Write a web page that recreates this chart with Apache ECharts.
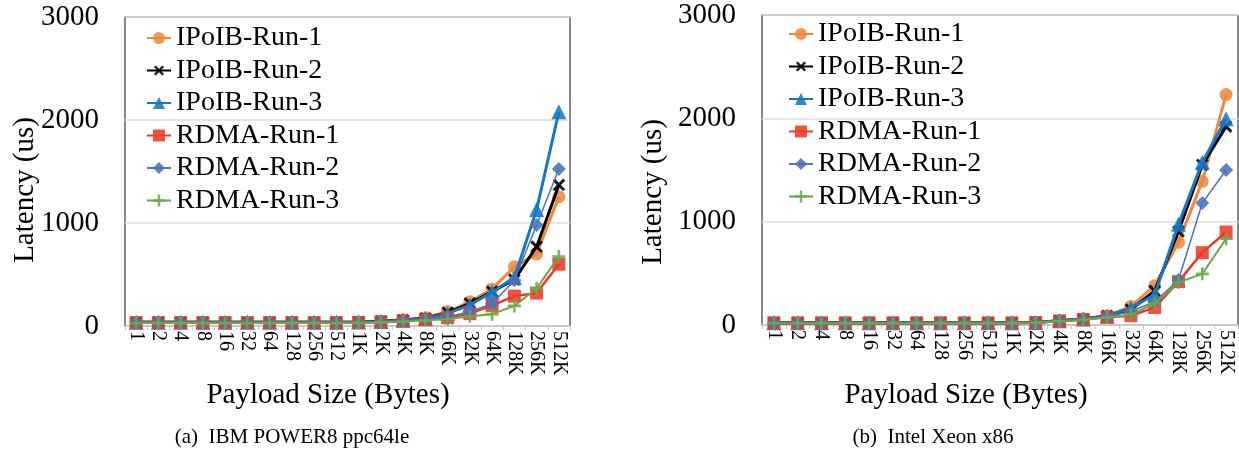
<!DOCTYPE html>
<html><head><meta charset="utf-8">
<script src="https://cdn.jsdelivr.net/npm/echarts@6/dist/echarts.min.js"></script>
<style>html,body{margin:0;padding:0;background:#fff}#c{width:1239px;height:457px}</style>
</head><body><div id="c"></div>
<script>
// ---------- data ----------
const categories = ['1','2','4','8','16','32','64','128','256','512','1K','2K','4K','8K','16K','32K','64K','128K','256K','512K'];
const yMin = 0, yMax = 3000, yInterval = 1000;
const seriesNames = ['IPoIB-Run-1','IPoIB-Run-2','IPoIB-Run-3','RDMA-Run-1','RDMA-Run-2','RDMA-Run-3'];
const xAxisTitle = 'Payload Size (Bytes)';
const yAxisTitle = 'Latency (us)';
const captions = ['(a)  IBM POWER8 ppc64le', '(b)  Intel Xeon x86'];

// (a) IBM POWER8 ppc64le
const power8Ipoib1 = [36,36,36,36,36,36,36,36,36,36,38,45,60,80,140,235,360,575,700,1255];
const power8Ipoib2 = [36,36,36,36,36,36,36,36,36,36,38,45,58,75,130,220,335,450,770,1370];
const power8Ipoib3 = [36,36,36,36,36,36,36,36,36,36,38,44,56,72,122,205,330,470,1130,2080];
const power8Rdma1  = [32,32,32,32,32,32,32,32,32,32,34,40,48,62,80,120,200,290,320,600];
const power8Rdma2  = [33,33,33,33,33,33,33,33,33,33,35,42,52,68,88,140,215,445,980,1525];
const power8Rdma3  = [28,28,28,28,28,28,28,28,28,28,30,35,42,55,65,95,115,195,365,675];

// (b) Intel Xeon x86
const xeonIpoib1 = [22,22,22,22,22,22,22,22,22,22,22,26,42,60,90,180,380,800,1390,2230];
const xeonIpoib2 = [22,22,22,22,22,22,22,22,22,22,22,25,40,58,88,150,330,905,1550,1920];
const xeonIpoib3 = [22,22,22,22,22,22,22,22,22,22,22,25,40,58,88,165,295,975,1575,1995];
const xeonRdma1  = [20,20,20,20,20,20,20,20,20,20,20,23,38,52,75,90,170,420,700,900];
const xeonRdma2  = [20,20,20,20,20,20,20,20,20,20,20,24,40,55,80,130,225,435,1180,1500];
const xeonRdma3  = [18,18,18,18,18,18,18,18,18,18,18,22,36,50,72,100,210,413,495,835];

// ---------- styles ----------
const FONT = 'Liberation Serif';
const PLUS = 'path://M4,0H6V4H10V6H6V10H4V6H0V4H4Z';
const styles = [
  {color:'#EE8A3C', symbol:'circle',   size:13, width:3,   rot:0},
  {color:'#000000', symbol:PLUS,       size:15, width:3,   rot:45},
  {color:'#1677C4', symbol:'triangle', size:15, width:3,   rot:0},
  {color:'#EE3A28', symbol:'rect',     size:13, width:2.5, rot:0},
  {color:'#4A72B8', symbol:'diamond',  size:14, width:1.5, rot:0},
  {color:'#6AA84A', symbol:PLUS,       size:13, width:2,   rot:0}
];

function makeSeries(values, idx) {
  return values.map((vals, i) => ({
    name: seriesNames[i],
    type: 'line',
    xAxisIndex: idx, yAxisIndex: idx,
    data: vals,
    symbol: styles[i].symbol,
    symbolSize: styles[i].size,
    symbolRotate: styles[i].rot,
    showAllSymbol: true,
    lineStyle: {color: styles[i].color, width: styles[i].width},
    itemStyle: {color: styles[i].color, opacity: 0.88},
    emphasis: {disabled: true},
    z: 2 + i
  }));
}

const grids = [
  {left:125, top:17, width:445, height:309},
  {left:762, top:15, width:476, height:310}
];

function xAxis(i) {
  return {
    type:'category', gridIndex:i, data:categories, boundaryGap:true,
    axisLine:{show:true, lineStyle:{color:'#c8c8c8', width:1.5}},
    axisTick:{show:true, length:4, lineStyle:{color:'#c8c8c8'}},
    axisLabel:{interval:0, rotate:-90, margin:5, fontFamily:FONT, fontSize:20, color:'#000'},
    splitLine:{show:false}
  };
}
function yAxis(i) {
  return {
    type:'value', gridIndex:i, min:yMin, max:yMax, interval:yInterval,
    axisLine:{show:false}, axisTick:{show:false},
    axisLabel:{margin:26, fontFamily:FONT, fontSize:29, color:'#000', formatter: v => String(v)},
    splitLine:{show:true, lineStyle:{color:'#dcdcdc', width:1.5}}
  };
}
function legend(left, top) {
  return {
    orient:'vertical', left:left, top:top, padding:0,
    itemWidth:24, itemHeight:15, itemGap:4.5,
    textStyle:{fontFamily:FONT, fontSize:28, lineHeight:28, color:'#000'},
    data: seriesNames, selectedMode:false
  };
}
function text(str, x, y, size, rot) {
  return {type:'text', x:x, y:y, rotation:rot||0, silent:true,
    style:{text:str, font: size + 'px "' + FONT + '"', fill:'#000', align:'center', verticalAlign:'middle'}};
}

const chart = echarts.init(document.getElementById('c'), null, {renderer:'canvas'});
chart.setOption({
  animation:false,
  backgroundColor:'#fff',
  grid: grids.map(g => Object.assign({show:true, borderColor:'#3a3a3a', borderWidth:1.2, backgroundColor:'transparent'}, g)),
  xAxis:[xAxis(0), xAxis(1)],
  yAxis:[yAxis(0), yAxis(1)],
  legend:[legend(146, 24), legend(788, 20)],
  series: makeSeries([power8Ipoib1,power8Ipoib2,power8Ipoib3,power8Rdma1,power8Rdma2,power8Rdma3],0)
    .concat(makeSeries([xeonIpoib1,xeonIpoib2,xeonIpoib3,xeonRdma1,xeonRdma2,xeonRdma3],1)),
  graphic:[
    text(yAxisTitle, 25, 190, 29, Math.PI/2),
    text(yAxisTitle, 653, 192, 29, Math.PI/2),
    text(xAxisTitle, 328, 395, 29),
    text(xAxisTitle, 966, 395, 29),
    text(captions[0], 292, 437, 21),
    text(captions[1], 933, 437, 21)
  ]
});
</script>
</body></html>
